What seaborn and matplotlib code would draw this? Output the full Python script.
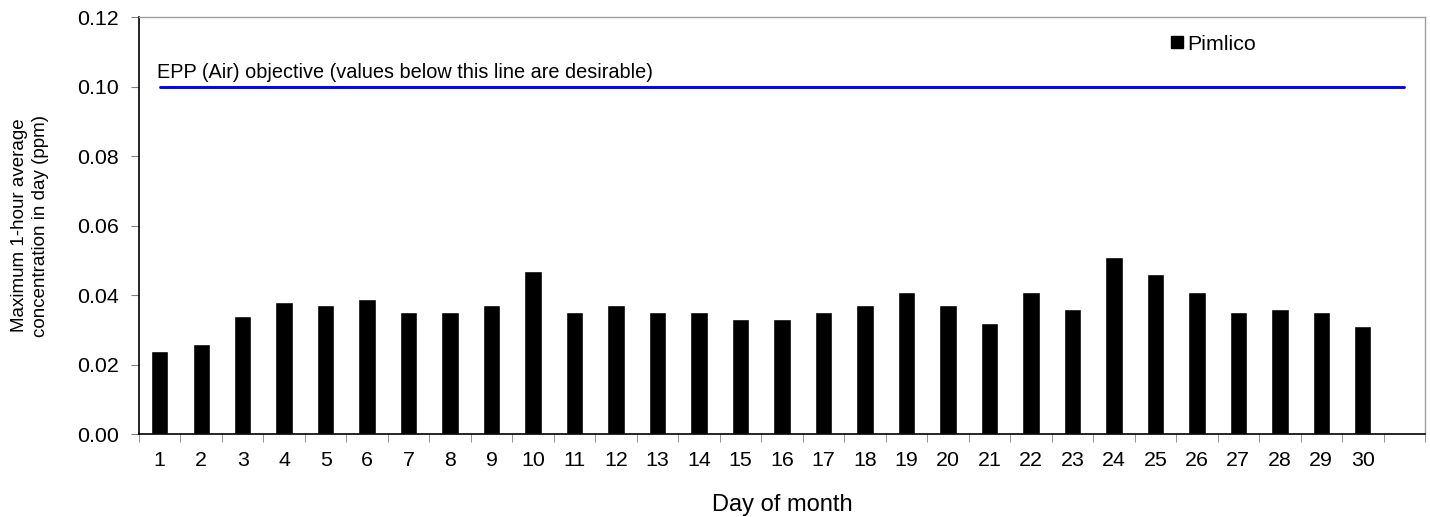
import matplotlib
matplotlib.use('Agg')
import matplotlib.pyplot as plt
import seaborn as sns
import pandas as pd
from matplotlib.lines import Line2D
from matplotlib.ticker import FixedLocator

# data
days = [str(d) for d in range(1, 31)]
pimlico = [0.024, 0.026, 0.034, 0.038, 0.037, 0.039, 0.035, 0.035, 0.037, 0.047,
           0.035, 0.037, 0.035, 0.035, 0.033, 0.033, 0.035, 0.037, 0.041, 0.037,
           0.032, 0.041, 0.036, 0.051, 0.046, 0.041, 0.035, 0.036, 0.035, 0.031]
objective = 0.10
yticks = [0.00, 0.02, 0.04, 0.06, 0.08, 0.10, 0.12]

df = pd.DataFrame({'day': days, 'ppm': pimlico})
slots = days + ['']  # the chart keeps one empty slot after day 30

sns.set_style('white')
plt.rcParams['font.family'] = ['Liberation Sans', 'DejaVu Sans']
plt.rcParams['text.color'] = 'black'
plt.rcParams['xtick.labelcolor'] = 'black'
plt.rcParams['ytick.labelcolor'] = 'black'
plt.rcParams['axes.labelcolor'] = 'black'

fig = plt.figure(figsize=(14.3, 5.17), dpi=100)
ax = fig.add_axes([0.0972, 0.1605, 0.8993, 0.8065])

sns.barplot(data=df, x='day', y='ppm', order=slots, color='black',
            width=0.42, saturation=1, ax=ax)

# objective line runs across all slots
ax.plot([0, len(slots) - 1], [objective, objective], color='#0000ff', lw=2.1)
ax.text(-0.07, objective + 0.0024, 'EPP (Air) objective (values below this line are desirable)',
        fontsize=14.3, ha='left', va='baseline')

ax.set_xlim(-0.5, len(slots) - 0.5)
ax.set_ylim(0, 0.12)
ax.set_yticks(yticks)
ax.set_yticklabels([f'{v:.2f}' for v in yticks])

# ticks between categories
ax.xaxis.set_minor_locator(FixedLocator([i - 0.5 for i in range(len(slots) + 1)]))
ax.tick_params(axis='x', which='major', length=0, labelsize=15.4, pad=12.5)
ax.tick_params(axis='x', which='minor', length=6, color='#808080', direction='out', bottom=True)
ax.tick_params(axis='y', length=6, color='#808080', direction='out', left=True, labelsize=15.4, pad=8.5)

for s in ['left', 'bottom']:
    ax.spines[s].set_color('black')
    ax.spines[s].set_linewidth(1.2)
for s in ['top', 'right']:
    ax.spines[s].set_color('#a0a0a0')
    ax.spines[s].set_linewidth(1.0)

ax.set_xlabel('Day of month', fontsize=17, labelpad=17)
ax.set_ylabel('Maximum 1-hour average\nconcentration in day (ppm)', fontsize=13.5,
              labelpad=20, linespacing=1.3)

handle = Line2D([], [], marker='s', color='black', linestyle='none', markersize=8.4)
ax.legend([handle], ['Pimlico'], loc='center left', bbox_to_anchor=(0.8013, 0.935),
          frameon=False, fontsize=15.4, handlelength=0.75, handletextpad=0.1,
          borderaxespad=0, borderpad=0)

fig.savefig('out.png', dpi=100)
